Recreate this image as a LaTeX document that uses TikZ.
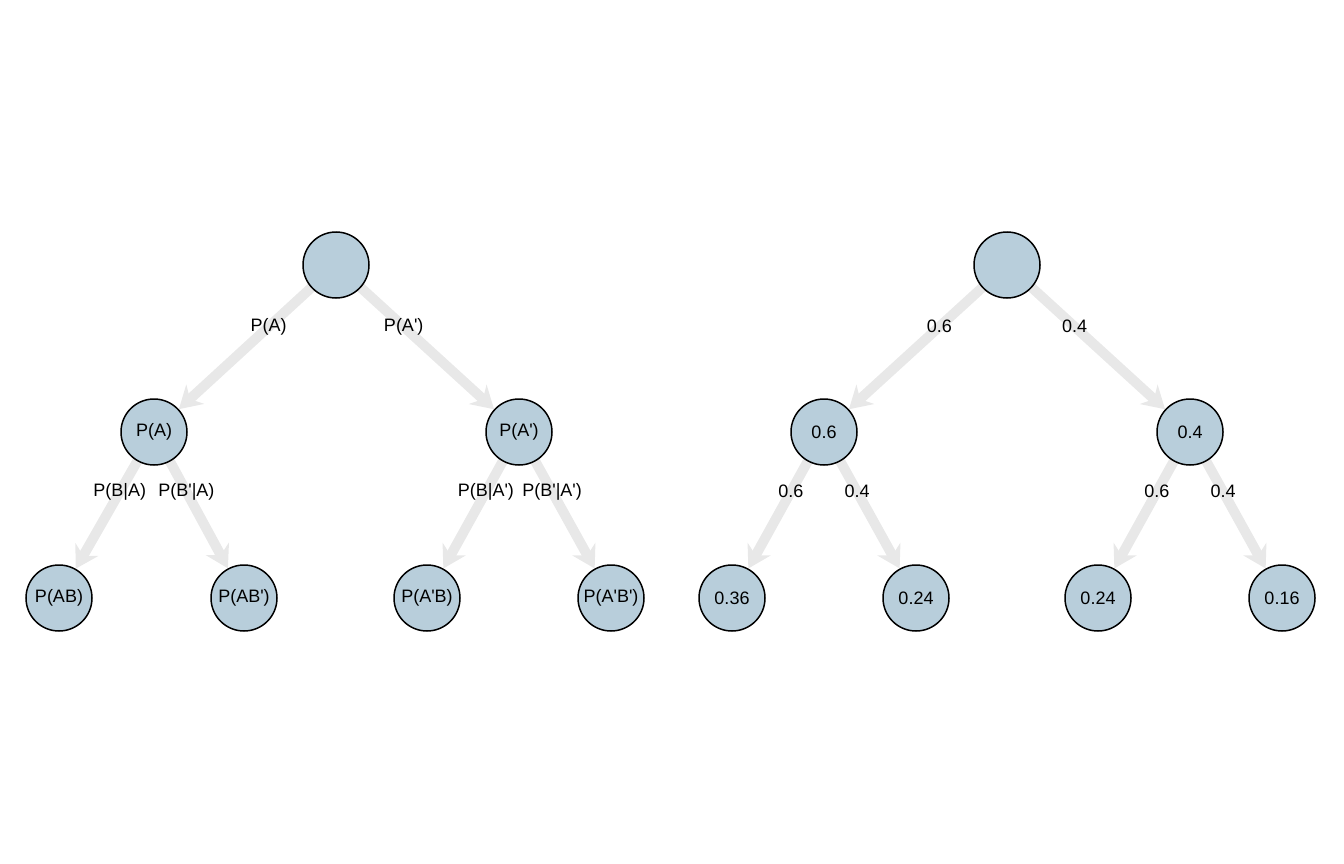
\documentclass[tikz,border=0pt]{standalone}
\usepackage{fontspec}
\newfontfamily\lab{Liberation Sans}
\usetikzlibrary{arrows.meta}
\definecolor{nodefill}{RGB}{184,206,219}
\definecolor{edgegray}{RGB}{232,232,232}
\pgfdeclarelayer{bg}
\pgfsetlayers{bg,main}
\tikzset{
  pnode/.style={circle, draw=black, line width=1.5pt, fill=nodefill, minimum size=66pt, inner sep=0pt, font=\lab\fontsize{18}{21}\selectfont},
  edge/.style={draw=edgegray, line width=10pt, -{Stealth[length=22pt, width=26pt, inset=7pt]}},
  elabel/.style={font=\lab\fontsize{18}{21}\selectfont, inner sep=0pt}
}
\begin{document}
\begin{tikzpicture}[x=1pt, y=-1pt]
\useasboundingbox (0,0) rectangle (1344,864);
% left tree nodes
\node[pnode] (r1) at (336,265) {};
\node[pnode] (a1) at (154,432) {P(A)};
\node[pnode] (b1) at (519,432) {P(A')};
\node[pnode] (c1) at (59,598) {P(AB)};
\node[pnode] (d1) at (244,598) {P(AB')};
\node[pnode] (e1) at (427,598) {P(A'B)};
\node[pnode] (f1) at (611,598) {P(A'B')};
% right tree nodes
\node[pnode] (r2) at (1007,265) {};
\node[pnode] (a2) at (824,432) {0.6};
\node[pnode] (b2) at (1190,432) {0.4};
\node[pnode] (c2) at (732,598) {0.36};
\node[pnode] (d2) at (916,598) {0.24};
\node[pnode] (e2) at (1098,598) {0.24};
\node[pnode] (f2) at (1282,598) {0.16};
% edges behind nodes
\begin{pgfonlayer}{bg}
\foreach \s/\t in {r1/a1, r1/b1, a1/c1, a1/d1, b1/e1, b1/f1, r2/a2, r2/b2, a2/c2, a2/d2, b2/e2, b2/f2}
  \draw[edge] (\s.center) -- (\t);
\end{pgfonlayer}
% edge labels
\path (r1.center) -- (a1.center) node[elabel, pos=0.37] {P(A)};
\path (r1.center) -- (b1.center) node[elabel, pos=0.37] {P(A')};
\path (a1.center) -- (c1.center) node[elabel, pos=0.36] {P(B|A)};
\path (a1.center) -- (d1.center) node[elabel, pos=0.36] {P(B'|A)};
\path (b1.center) -- (e1.center) node[elabel, pos=0.36] {P(B|A')};
\path (b1.center) -- (f1.center) node[elabel, pos=0.36] {P(B'|A')};
\path (r2.center) -- (a2.center) node[elabel, pos=0.37] {0.6};
\path (r2.center) -- (b2.center) node[elabel, pos=0.37] {0.4};
\path (a2.center) -- (c2.center) node[elabel, pos=0.36] {0.6};
\path (a2.center) -- (d2.center) node[elabel, pos=0.36] {0.4};
\path (b2.center) -- (e2.center) node[elabel, pos=0.36] {0.6};
\path (b2.center) -- (f2.center) node[elabel, pos=0.36] {0.4};
\end{tikzpicture}
\end{document}
